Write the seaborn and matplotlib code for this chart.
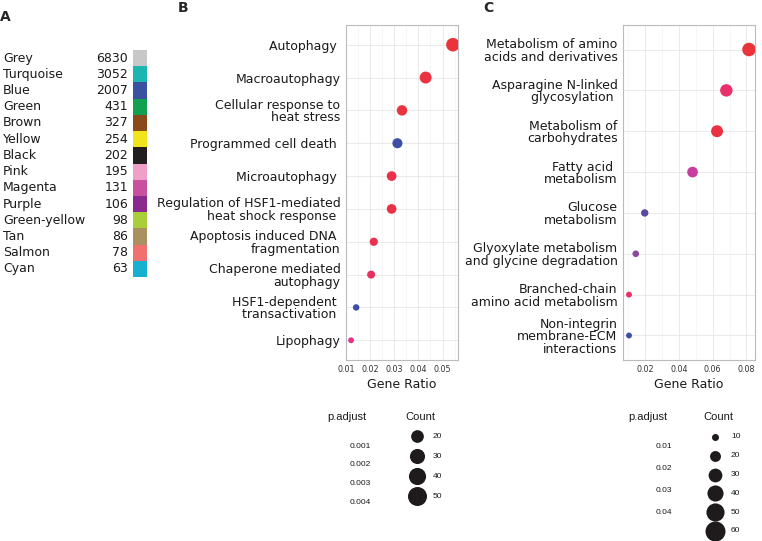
import matplotlib
matplotlib.use("Agg")
import matplotlib.pyplot as plt
import matplotlib.transforms as mtransforms
from matplotlib.colors import LinearSegmentedColormap
from matplotlib.ticker import AutoMinorLocator
import seaborn as sns
import pandas as pd

# Panel A: WGCNA module sizes
module_names = ["Grey", "Turquoise", "Blue", "Green", "Brown", "Yellow", "Black",
                "Pink", "Magenta", "Purple", "Green-yellow", "Tan", "Salmon", "Cyan"]
module_sizes = [6830, 3052, 2007, 431, 327, 254, 202, 195, 131, 106, 98, 86, 78, 63]
module_colors = ["#C8C8C8", "#1DB5B0", "#3A50A0", "#12A050", "#8B4A1C", "#F2E41A", "#231F20",
                 "#F0A0C8", "#C8509E", "#8A2A8E", "#A8CF3A", "#A89060", "#F07070", "#18B0D0"]

# Panel B: enrichment terms
b_terms = ["Autophagy ", "Macroautophagy", "Cellular response to\nheat stress",
           "Programmed cell death ", "Microautophagy ",
           "Regulation of HSF1-mediated\nheat shock response ",
           "Apoptosis induced DNA \nfragmentation", "Chaperone mediated\nautophagy",
           "HSF1-dependent \ntransactivation ", "Lipophagy"]
b_ratio = [0.0543, 0.0430, 0.0332, 0.0313, 0.0289, 0.0289, 0.0215, 0.0204, 0.0142, 0.0121]
b_count = [51, 40, 31, 29, 27, 27, 20, 19, 13, 11]
b_padj = [0.0002, 0.0003, 0.0003, 0.0045, 0.0004, 0.0004, 0.0005, 0.0007, 0.0044, 0.0015]
b_xticks = [0.01, 0.02, 0.03, 0.04, 0.05]
b_padj_ticks = [0.001, 0.002, 0.003, 0.004]
b_count_ticks = [20, 30, 40, 50]

# Panel C: enrichment terms
c_terms = ["Metabolism of amino\nacids and derivatives", "Asparagine N-linked\nglycosylation ",
           "Metabolism of\ncarbohydrates", "Fatty acid \nmetabolism", "Glucose\nmetabolism",
           "Glyoxylate metabolism\nand glycine degradation",
           "Branched-chain\namino acid metabolism", "Non-integrin\nmembrane-ECM\ninteractions"]
c_ratio = [0.0815, 0.0681, 0.0626, 0.0481, 0.0198, 0.0145, 0.0105, 0.0105]
c_count = [60, 50, 46, 36, 15, 11, 8, 8]
c_padj = [0.0005, 0.0072, 0.0018, 0.0205, 0.0370, 0.0295, 0.0070, 0.0450]
c_xticks = [0.02, 0.04, 0.06, 0.08]
c_padj_ticks = [0.01, 0.02, 0.03, 0.04]
c_count_ticks = [10, 20, 30, 40, 50, 60]

W, H = 762, 541
sns.set_style("white")
plt.rcParams["font.family"] = ["DejaVu Sans"]

padj_cmap = LinearSegmentedColormap.from_list(
    "padj", [(0, "#EA333B"), (0.15, "#E8306A"), (0.3, "#E3348C"), (0.45, "#C73E9F"),
             (0.65, "#8C479F"), (0.82, "#5C4AA0"), (1, "#3C4FA5")])

fig = plt.figure(figsize=(W / 100, H / 100), dpi=100)


def px_axes(x0, y0, x1, y1):
    return fig.add_axes([x0 / W, 1 - y1 / H, (x1 - x0) / W, (y1 - y0) / H])


# overlay in pixel coordinates for letters and legends
over = fig.add_axes([0, 0, 1, 1])
over.set_xlim(0, W)
over.set_ylim(H, 0)
over.axis("off")

# ---- Panel A ----
axA = px_axes(133, 50, 147, 277)
axA.barh(range(len(module_names)), [1] * len(module_names), height=1.0,
         color=module_colors, linewidth=0)
axA.set_xlim(0, 1)
axA.set_ylim(len(module_names) - 0.5, -0.5)
axA.axis("off")
trA = mtransforms.blended_transform_factory(fig.transFigure, axA.transData)
for i, (name, n) in enumerate(zip(module_names, module_sizes)):
    axA.text(3 / W, i, name, transform=trA, ha="left", va="center", fontsize=9, color="#1a1a1a")
    axA.text(128 / W, i, str(n), transform=trA, ha="right", va="center", fontsize=9, color="#1a1a1a")


def dot_panel(ax, terms, ratio, count, padj, xticks, sizes):
    df = pd.DataFrame({"term": terms, "GeneRatio": ratio, "Count": count, "p.adjust": padj})
    sns.scatterplot(data=df, x="GeneRatio", y="term", hue="p.adjust", size="Count",
                    palette=padj_cmap, hue_norm=(min(padj), max(padj)),
                    sizes=sizes, size_norm=(min(count), max(count)),
                    linewidth=0, legend=False, ax=ax, zorder=3)
    lo, hi = min(ratio), max(ratio)
    pad = 0.05 * (hi - lo)
    ax.set_xlim(lo - pad, hi + pad)
    ax.set_ylim(len(terms) - 0.4, -0.6)
    ax.set_xticks(xticks)
    ax.set_xticklabels([f"{t:g}" for t in xticks])
    ax.xaxis.set_minor_locator(AutoMinorLocator(2))
    ax.grid(True, which="major", color="#E6E6E6", linewidth=0.6, zorder=0)
    ax.grid(True, which="minor", axis="x", color="#F0F0F0", linewidth=0.4, zorder=0)
    ax.set_axisbelow(True)
    for s in ax.spines.values():
        s.set_color("#BBBBBB")
        s.set_linewidth(0.8)
    ax.tick_params(axis="both", which="major", length=2.5, width=0.6, color="#888888")
    ax.tick_params(axis="x", which="major", labelsize=5.8, labelcolor="#333333", pad=1.2)
    ax.tick_params(axis="y", which="major", labelsize=9, labelcolor="#1a1a1a", pad=1.5)
    ax.tick_params(which="minor", length=0)
    for lab in ax.get_yticklabels():
        lab.set_linespacing(0.95)
    ax.set_ylabel("")
    ax.set_xlabel("Gene Ratio", fontsize=9, color="#1a1a1a", labelpad=3)


axB = px_axes(346, 25, 458, 360)
dot_panel(axB, b_terms, b_ratio, b_count, b_padj, b_xticks, (18, 95))
axC = px_axes(623, 25, 755, 360)
dot_panel(axC, c_terms, c_ratio, c_count, c_padj, c_xticks, (18, 95))

# panel letters
over.text(0, 17, "A", fontsize=10, fontweight="bold", va="center", ha="left")
over.text(178, 8, "B", fontsize=10, fontweight="bold", va="center", ha="left")
over.text(483, 8, "C", fontsize=10, fontweight="bold", va="center", ha="left")


def legend_block(x_pt, y_title, padj_ticks, padj_y0, padj_step, x_cnt_title, x_dot,
                 count_ticks, cnt_y0, cnt_step, d_range):
    lf = ["Liberation Sans", "DejaVu Sans"]
    over.text(x_pt, y_title, "p.adjust", fontsize=8, family=lf, ha="left", va="center", color="#1a1a1a")
    for i, t in enumerate(padj_ticks):
        over.text(x_pt + 44, padj_y0 + i * padj_step, f"{t:g}", fontsize=6, family=lf,
                  ha="right", va="center", color="#1a1a1a")
    over.text(x_cnt_title, y_title, "Count", fontsize=8, family=lf, ha="left", va="center", color="#1a1a1a")
    c0, c1 = min(count_ticks), max(count_ticks)
    a0, a1 = d_range[0] ** 2, d_range[1] ** 2
    for i, c in enumerate(count_ticks):
        y = cnt_y0 + i * cnt_step
        area = a0 + (a1 - a0) * (c - c0) / (c1 - c0)
        over.scatter([x_dot], [y], s=area * 0.72 ** 2, color="#1f1b1c", linewidth=0)
        over.text(x_dot + 16, y, str(c), fontsize=6, family=lf, ha="left", va="center", color="#1a1a1a")


legend_block(327, 417, b_padj_ticks, 446, 18.7, 405, 417, b_count_ticks, 436, 20, (12.7, 19))
legend_block(628, 417, c_padj_ticks, 447, 22, 703, 715, c_count_ticks, 437, 18.8, (7, 20))

fig.savefig("out.png", dpi=100)
